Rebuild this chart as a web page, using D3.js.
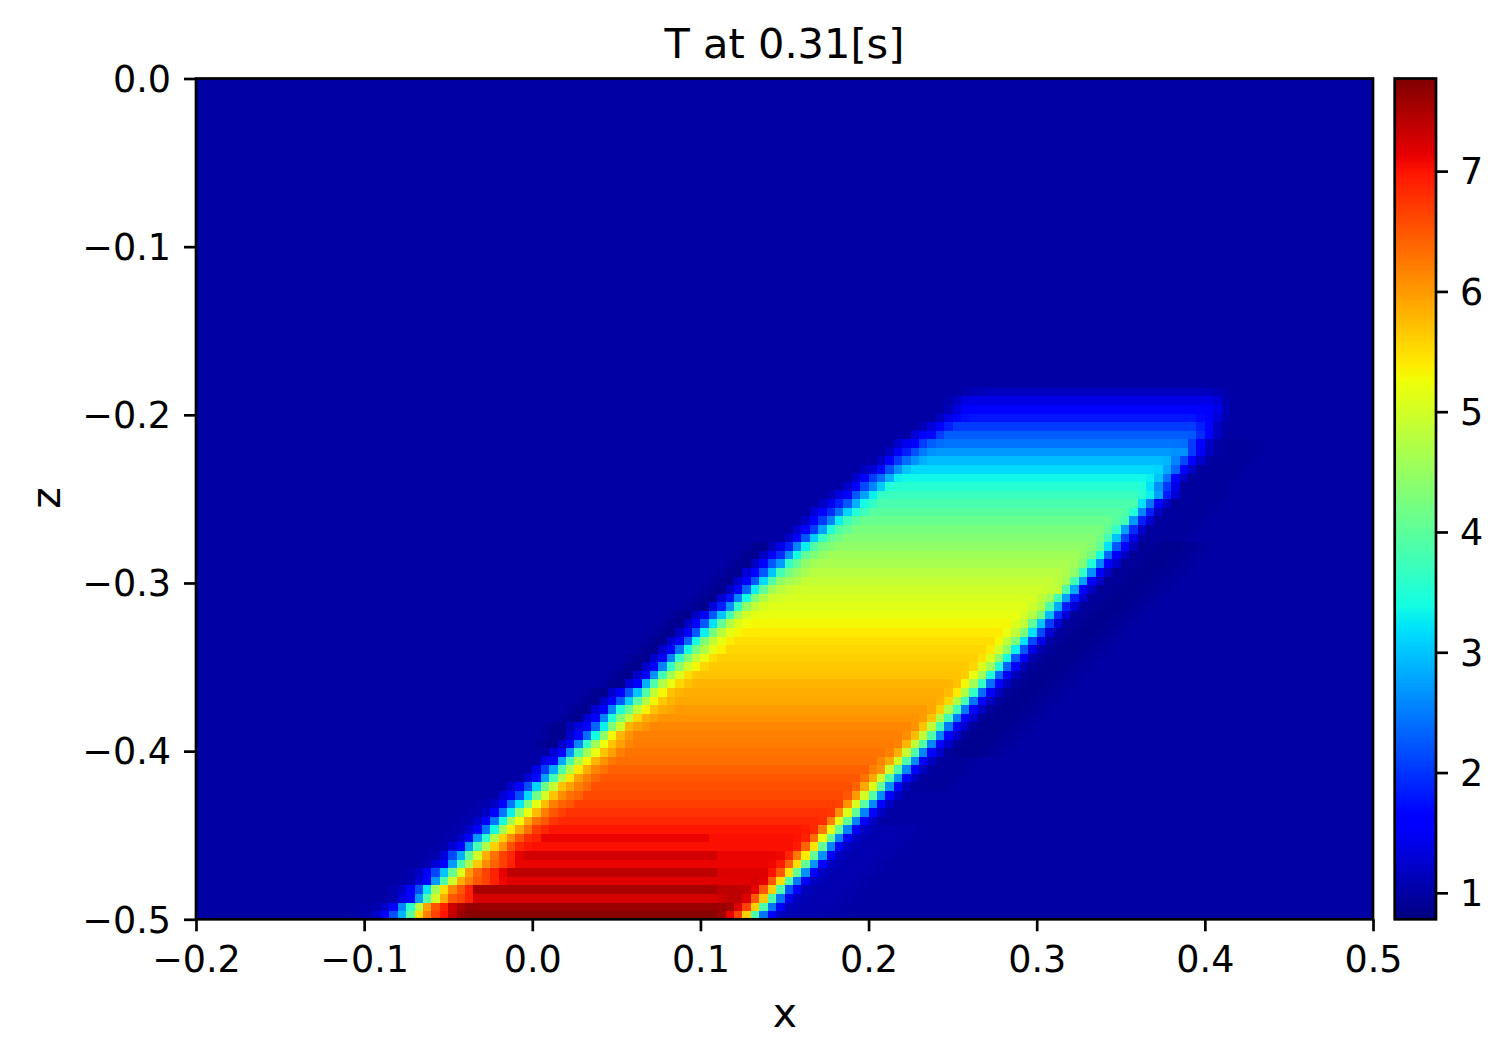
<!DOCTYPE html>
<html><head><meta charset="utf-8">
<script src="https://cdn.jsdelivr.net/npm/d3@7"></script>
<style>html,body{margin:0;padding:0;background:#fff}svg{display:block}text{font-family:"DejaVu Sans",sans-serif;fill:#000}</style>
</head><body><svg id="c" width="1509" height="1061"></svg>
<script>
// ---- values ----
const title = "T at 0.31[s]";
const xLabel = "x", zLabel = "z";
const xTicks = [-0.2,-0.1,0,0.1,0.2,0.3,0.4,0.5];
const zTicks = [0,-0.1,-0.2,-0.3,-0.4,-0.5];
const cbTicks = [1,2,3,4,5,6,7];
const valueMin = 0.78, valueMax = 7.77, background = 1.0;
const nCols = 140, nRows = 98;

// per row (row 0 = bottom): first column of the left ramp
const leftStart = [21,22,24,24,26,26,28,29,30,31,32,33,34,35,36,37,39,40,41,42,43,44,44,46,47,48,49,51,52,53,54,55,56,57,58,59,61,62,63,64,65,66,67,68,70,71,72,73,74,75,77,78,79,81,82,83,85,86,88,89,89,91,94];
const leftRamp = [
[1.25,1.6,2.2,2.9,4.0,5.5,6.2,6.65,7.0,7.35,7.6],
[1.25,1.6,2.6,3.6,4.8,5.95,6.55,6.9,7.3,7.5],
[1.35,1.6,2.7,3.9,5.0,5.85,6.5,6.65,6.9],
[1.2,1.6,2.2,3.2,4.6,5.5,6.15,6.5,6.9],
[1.3,1.6,2.7,3.9,4.95,5.85,6.2,6.5,6.65,6.9,7.1],
[1.2,1.5,2.15,3.0,4.1,5.1,6.0,6.4,6.65,6.9,7.15],
[1.3,1.6,2.7,3.85,4.7,5.65,6.1,6.4,6.65,6.9],
[1.35,2.15,2.85,4.05,5.0,5.85,6.3,6.65,6.85,7.15],
[1.3,1.6,2.7,3.85,4.7,5.6,6.05,6.55,6.85,6.98],
[1.25,1.6,2.7,3.6,4.7,5.6,6.1,6.5,6.8,6.9],
[1.25,1.6,2.45,3.4,4.6,5.4,5.9,6.3,6.7,6.85],
[1.25,1.6,2.45,3.4,4.6,5.3,5.9,6.3,6.5,6.75],
[1.2,1.6,2.45,3.3,4.45,5.2,5.75,6.2,6.5,6.65],
[1.2,1.6,2.45,3.25,4.3,5.15,5.75,6.2,6.4,6.5],
[1.3,1.6,2.2,3.15,4.15,5.0,5.7,6.1,6.3,6.4],
[1.25,1.6,2.2,3.1,4.15,4.9,5.7,5.95,6.2,6.35],
[1.3,1.7,2.75,3.8,4.75,5.45,5.95,6.2,6.38],
[1.4,2.05,2.8,3.9,4.72,5.4,5.85,6.15,6.3],
[1.4,1.6,2.8,3.85,4.72,5.3,5.8,6.05,6.25],
[1.3,1.6,2.65,3.8,4.6,5.2,5.7,5.95,6.2],
[1.25,1.6,2.55,3.65,4.6,5.25,5.7,5.95,6.15],
[1.25,1.6,2.4,3.4,4.45,5.3,5.8,6.05],
[1.1,1.35,1.6,2.35,3.3,4.3,4.95,5.8,5.95,6.05],
[1.3,1.6,2.55,3.5,4.3,4.85,5.55,5.85,5.95],
[1.3,1.6,2.55,3.5,4.1,4.85,5.35,5.7,5.85,5.92],
[1.25,1.6,2.25,3.05,3.95,4.75,5.3,5.65,5.8],
[1.25,1.6,2.25,3.0,3.9,4.85,5.3,5.7,5.8],
[1.3,1.6,2.85,3.9,4.72,5.2,5.55,5.7],
[1.25,1.6,2.65,3.8,4.6,5.1,5.5,5.65],
[1.25,1.6,2.55,3.65,4.45,4.98,5.3,5.55],
[1.25,1.6,2.55,3.65,4.3,4.85,5.2,5.5],
[1.25,1.6,2.45,3.4,4.2,4.72,5.15,5.35],
[1.25,1.6,2.35,3.4,4.3,4.85,5.2,5.38],
[1.2,1.6,2.25,3.3,4.2,4.8,5.15,5.3],
[1.2,1.6,2.25,3.2,4.05,4.72,5.1,5.25],
[1.2,1.6,2.25,3.0,3.8,4.6,5.0,5.15],
[1.35,1.85,2.65,3.65,4.45,4.85,5.05],
[1.3,1.75,2.55,3.4,4.3,4.72,4.95,5.0],
[1.2,1.6,2.35,3.3,4.05,4.6,4.8,4.9],
[1.25,1.6,2.25,3.15,3.9,4.45,4.6,4.72],
[1.3,1.6,2.25,3.0,3.8,4.2,4.45,4.65],
[1.2,1.6,2.25,2.7,3.65,4.05,4.45,4.6],
[1.2,1.5,1.95,2.65,3.4,4.05,4.3,4.45],
[1.12,1.4,1.85,2.55,3.3,3.9,4.2,4.3],
[1.25,1.6,2.25,3.05,3.65,4.05,4.2],
[1.25,1.6,2.05,2.75,3.5,3.9,4.05],
[1.2,1.6,2.05,2.55,3.3,3.75,3.97],
[1.3,1.6,1.95,2.45,3.1,3.5,3.75],
[1.2,1.45,1.85,2.25,2.85,3.4,3.65],
[1.12,1.35,1.6,2.25,2.75,3.3,3.65],
[1.25,1.6,2.15,2.55,3.05,3.5],
[1.25,1.6,2.05,2.4,2.85,3.3],
[1.17,1.3,1.7,2.2,2.65,3.0],
[1.2,1.6,2.05,2.4,2.65,2.85],
[1.2,1.5,1.85,2.2,2.5,2.65],
[1.25,1.45,1.6,2.05,2.3,2.4],
[1.3,1.6,1.7,2.05],
[1.12,1.35,1.6,1.85],
[1.17,1.4,1.6,1.75],
[1.12,1.35],
[1.05,1.2],
[1.05,1.12,1.12],
[]
];
// per row: level of the flat interior
const plateau = [7.72,7.62,7.25,7.52,7.18,7.4,7.12,7.27,7.03,7.12,6.98,6.85,6.78,6.68,6.6,6.55,6.5,6.42,6.33,6.28,6.22,6.2,6.15,6.05,6.0,5.9,5.85,5.8,5.7,5.65,5.6,5.55,5.5,5.4,5.3,5.2,5.12,5.05,4.98,4.88,4.78,4.65,4.58,4.45,4.35,4.25,4.12,3.97,3.85,3.7,3.55,3.35,3.15,2.95,2.7,2.45,2.3,2.05,1.8,1.62,1.4,1.17,1.02];
// lighter stretches at the right end of the striped rows: row, first column, value
const stripeEndRow = [3,5,7,9];
const stripeEndCol = [62,62,62,61];
const stripeEndValue = [7.4,7.2,7.12,7.03];
// per row: first column of the right ramp
const rightStart = [62,62,62,64,66,67,68,69,70,71,72,73,74,75,76,78,79,80,81,82,83,84,85,86,87,88,89,90,91,92,93,94,95,96,97,98,99,100,101,102,103,104,105,106,107,108,109,110,111,112,112,113,114,115,116,117,118,119,119,121,121,121,121];
const rightRamp = [
[7.6,7.15,6.65,5.6,3.85,2.45,1.6,1.2],
[7.6,7.55,7.2,6.65,5.6,3.85,2.45,1.6,1.15],
[7.3,7.4,7.4,7.2,6.5,5.65,3.9,2.45,1.45,1.15],
[7.4,7.35,7.15,6.5,5.6,3.9,2.25,1.6,1.12],
[7.25,7.15,6.5,5.5,3.9,2.5,1.6,1.2],
[7.2,7.0,6.5,5.45,4.05,2.65,1.6,1.2],
[7.1,6.95,6.4,5.5,4.05,2.65,1.6,1.2],
[7.1,6.88,6.25,5.4,4.05,2.65,1.6,1.2],
[7.03,6.95,6.4,5.45,4.05,2.55,1.6,1.2],
[7.0,6.9,6.35,5.25,4.05,2.55,1.6,1.2],
[6.95,6.85,6.25,5.2,4.05,2.55,1.6,1.2],
[6.85,6.8,6.2,5.15,4.05,2.55,1.6,1.2],
[6.78,6.75,6.1,5.1,4.05,2.55,1.6,1.2],
[6.7,6.65,6.05,5.05,3.95,2.6,1.6,1.2],
[6.6,6.5,6.0,5.0,3.9,2.6,1.6,1.2],
[6.4,5.9,5.1,4.05,2.65,1.6,1.12],
[6.3,5.9,5.0,3.9,2.65,1.6,1.17],
[6.2,6.05,4.98,3.9,2.6,1.6,1.2],
[6.15,5.9,5.0,3.9,2.6,1.6,1.2],
[6.2,5.85,4.9,3.9,2.55,1.6,1.25],
[6.18,5.8,4.85,3.9,2.55,1.6,1.25],
[6.1,5.75,4.85,3.9,2.55,1.6,1.25],
[6.05,5.7,4.85,3.8,2.5,1.6,1.25],
[5.98,5.7,4.72,3.8,2.5,1.6,1.25],
[5.9,5.6,4.72,3.8,2.5,1.6,1.2],
[5.82,5.55,4.72,3.8,2.45,1.6,1.2],
[5.75,5.4,4.72,3.65,2.4,1.6,1.17],
[5.7,5.3,4.6,3.65,2.4,1.6,1.17],
[5.62,5.2,4.6,3.5,2.35,1.6,1.12],
[5.55,5.1,4.6,3.5,2.35,1.6,1.12],
[5.48,5.1,4.45,3.4,2.25,1.5,1.07],
[5.4,5.0,4.45,3.3,2.25,1.4,1.07],
[5.3,4.85,4.3,3.2,2.15,1.4,1.0],
[5.2,4.85,4.3,3.2,2.15,1.3,1.0],
[5.1,4.85,4.05,3.0,2.05,1.3,0.95],
[5.0,4.75,4.2,2.95,1.95,1.3,0.95],
[4.95,4.72,3.9,2.85,1.85,1.3,0.95],
[4.85,4.6,3.8,2.75,1.85,1.3,0.95],
[4.9,4.85,3.9,2.8,1.6,1.2,0.92],
[4.8,4.6,3.8,2.75,1.6,1.2,0.92],
[4.68,4.45,3.65,2.65,1.6,1.2,0.92],
[4.58,4.3,3.5,2.55,1.6,1.25,0.92],
[4.45,4.2,3.4,2.35,1.6,1.2,0.92],
[4.35,4.05,3.2,2.25,1.6,1.15,0.9],
[4.2,3.8,3.0,2.1,1.4,1.0],
[4.05,3.65,2.75,1.95,1.25,0.95],
[3.95,3.8,2.7,1.85,1.3,0.95],
[3.9,3.5,2.55,1.85,1.2,0.95],
[3.85,3.2,2.45,1.6,1.2,0.92],
[3.55,3.3,2.75,1.85,1.3,0.98],
[3.5,3.2,2.65,2.05,1.4,0.97],
[3.3,3.0,2.45,1.6,1.2,0.95],
[3.1,2.8,2.35,1.6,1.2,0.95],
[2.9,2.55,2.15,1.6,1.25,1.0],
[2.65,2.65,2.05,1.5,1.17,1.0],
[2.4,2.05,1.6,1.2,1.0],
[2.25,1.95,1.6,1.2,1.0],
[1.85,1.6,1.2,1.02],
[1.7,1.6,1.3,1.07],
[1.4,1.12,1.02],
[1.3,1.07],
[1.1,1.05],
[1.01]
];
// dark/light fringe just outside the ramps
const haloLow = [1.1,1.08,1.08,1.06,1.05,1.04,1.02];
const haloSoft = [0.97,0.95,0.94,0.95,0.97];
const haloMid = [0.94,0.9,0.88,0.88,0.9,0.93,0.96,0.98];
const leftFringeDark = [0.97,0.9,0.88];
const leftFringeLight = [1.03,1.06];
const rightFringeRow = ["L","L","L","L","L","L","L","L","L","L","L","","","","","S","S","S","S","M","M","M","M","M","M","M","M","M","M","M","M","M","M","M","M","M","M","M","M","M","M","M","M","M","S","S","S","S","S","S","S","S","S","S","S","S","","","","","","",""];
const leftFringeRow = ["L","L","L","L","L","L","L","L","L","L","L","L","L","L","","","","","","","D","D","D","D","D","D","D","D","D","D","D","D","D","D","D","D","D","D","D","D","D","D","D","D","","","","","","","","","","","","","","","","","","",""];

// ---- geometry ----
const X0=196,X1=1373,Y0=919.3,Y1=78.5;
const svg=d3.select("#c");
const x=d3.scaleLinear().domain([-0.2,0.5]).range([X0,X1]);
const z=d3.scaleLinear().domain([-0.5,0]).range([Y0,Y1]);
const dx=0.7/nCols, dz=0.5/nRows;

// jet colormap (matplotlib segments)
const jetR=d3.scaleLinear().domain([0,.35,.66,.89,1]).range([0,0,1,1,.5]);
const jetG=d3.scaleLinear().domain([0,.125,.375,.64,.91,1]).range([0,0,1,1,0,0]);
const jetB=d3.scaleLinear().domain([0,.11,.34,.65,1]).range([.5,1,1,0,0]);
const norm=d3.scaleLinear().domain([valueMin,valueMax]).range([0,1]).clamp(true);
const jet=t=>`rgb(${Math.round(255*jetR(t))},${Math.round(255*jetG(t))},${Math.round(255*jetB(t))})`;
const color=v=>jet(norm(v));

// assemble the grid
const grid=d3.range(nRows).map(()=>new Array(nCols).fill(background));
plateau.forEach((p,r)=>{
  const row=grid[r], ls=leftStart[r], lr=leftRamp[r], rs=rightStart[r], rr=rightRamp[r];
  for(let c=ls+lr.length;c<rs;c++) row[c]=p;
  const se=stripeEndRow.indexOf(r);
  if(se>=0) for(let c=stripeEndCol[se];c<rs;c++) row[c]=stripeEndValue[se];
  lr.forEach((v,i)=>{row[ls+i]=v});
  rr.forEach((v,i)=>{row[rs+i]=v});
  const rk=rightFringeRow[r];
  const rh=rk==="L"?haloLow:rk==="S"?haloSoft:rk==="M"?haloMid:[];
  rh.forEach((v,i)=>{row[rs+rr.length+i]=v});
  const lk=leftFringeRow[r];
  const lh=lk==="D"?leftFringeDark:lk==="L"?leftFringeLight:[];
  lh.forEach((v,i)=>{row[ls-lh.length+i]=v});
});
const cells=[];
grid.forEach((row,r)=>row.forEach((v,c)=>{if(v!==background)cells.push({r,c,v})}));

const plot=svg.append("g");
plot.append("rect").attr("x",x(-0.2)).attr("y",z(0)).attr("width",x(0.5)-x(-0.2)).attr("height",z(-0.5)-z(0)).attr("fill",color(background));
plot.append("g").attr("shape-rendering","crispEdges").selectAll("rect").data(cells).join("rect")
  .attr("x",d=>x(-0.2+d.c*dx)).attr("width",d=>x(-0.2+(d.c+1)*dx)-x(-0.2+d.c*dx)+.4)
  .attr("y",d=>z(-0.5+(d.r+1)*dz)).attr("height",d=>z(-0.5+d.r*dz)-z(-0.5+(d.r+1)*dz)+.4)
  .attr("fill",d=>color(d.v));

// axes
const FS=36.5, SW=2.7, TL=12;
function style(g){
  g.selectAll(".domain").remove();
  g.selectAll(".tick line").attr("stroke","#000").attr("stroke-width",SW);
  g.selectAll(".tick text").attr("font-size",FS).attr("fill","#000").attr("font-family","DejaVu Sans");
}
const fmt=d3.format(".1f");
svg.append("g").attr("transform",`translate(0,${Y0})`)
  .call(d3.axisBottom(x).tickValues(xTicks).tickFormat(fmt).tickSize(TL).tickPadding(14.5)).call(style);
svg.append("g").attr("transform",`translate(${X0},0)`)
  .call(d3.axisLeft(z).tickValues(zTicks).tickFormat(fmt).tickSize(TL).tickPadding(13)).call(style)
  .selectAll(".tick text").attr("dy",".35em");
svg.append("rect").attr("x",X0).attr("y",Y1).attr("width",X1-X0).attr("height",Y0-Y1).attr("fill","none").attr("stroke","#000").attr("stroke-width",SW);

// colorbar
const CB0=1394.7,CB1=1436;
const cb=d3.scaleLinear().domain([valueMin,valueMax]).range([Y0,Y1]);
const levels=d3.range(256).map(i=>i/256);
svg.append("g").attr("shape-rendering","crispEdges").selectAll("rect").data(levels).join("rect")
  .attr("x",CB0).attr("width",CB1-CB0)
  .attr("y",t=>cb(valueMin+(t+1/256)*(valueMax-valueMin)))
  .attr("height",(Y0-Y1)/256+.6)
  .attr("fill",t=>jet(t+.5/256));
svg.append("g").attr("transform",`translate(${CB1},0)`)
  .call(d3.axisRight(cb).tickValues(cbTicks).tickFormat(d3.format("d")).tickSize(TL).tickPadding(12)).call(style)
  .selectAll(".tick text").attr("dy",".35em");
svg.append("rect").attr("x",CB0).attr("y",Y1).attr("width",CB1-CB0).attr("height",Y0-Y1).attr("fill","none").attr("stroke","#000").attr("stroke-width",SW);

// labels
svg.append("text").attr("x",784.5).attr("y",58).attr("text-anchor","middle").attr("font-size",41.5).text(title);
svg.append("text").attr("x",785).attr("y",1027).attr("text-anchor","middle").attr("font-size",41).text(xLabel);
svg.append("text").attr("transform","translate(60,498) rotate(-90)").attr("text-anchor","middle").attr("font-size",41).text(zLabel);
</script></body></html>
